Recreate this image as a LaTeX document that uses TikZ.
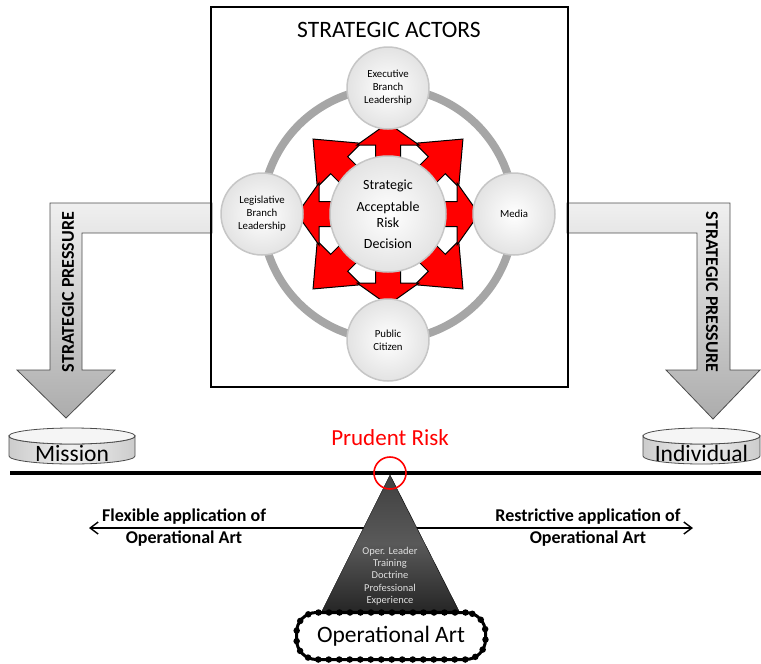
\documentclass[tikz,border=0pt]{standalone}
\usepackage{fontspec}
\setmainfont{Carlito}
\usetikzlibrary{arrows.meta}

\begin{document}
\begin{tikzpicture}[x=1pt,y=-1pt]
			\tikzstyle{actor}=[circle, draw=gray!45, line width=1.5pt, inner color=white, outer color=gray!22, minimum size=82pt, inner sep=0pt, align=center, font=\fontsize{10.8}{13}\selectfont]
			\tikzstyle{spoke}=[fill=red, draw=black, line width=1pt, line join=miter]
			\tikzstyle{pressure}=[draw=gray!60!black, line width=0.8pt, top color=gray!12, bottom color=gray!65]
			\tikzstyle{pressuretext}=[font=\bfseries\fontsize{18}{20}\selectfont]
			\tikzstyle{weight}=[draw=gray!60!black, line width=0.8pt, left color=gray!40, right color=gray!40, middle color=gray!12]
			\tikzstyle{weightend}=[draw=gray!60!black, line width=0.8pt, fill=gray!8]
			\tikzstyle{weighttext}=[font=\fontsize{23.5}{26}\selectfont]
			\tikzstyle{armtext}=[align=center, font=\bfseries\fontsize{18}{22}\selectfont]
			\tikzstyle{puffy}=[draw, fill=white, line width=3pt, rounded corners=20pt, minimum width=189pt, minimum height=47pt, postaction={draw, line width=6.5pt, line cap=round, dash pattern=on 0pt off 10.5pt}]
			\tikzset{edge/.style = {<->, >={Straight Barb[length=8pt,width=12pt]}, line width=1.4pt}}
			
			\useasboundingbox (0,0) rectangle (761,664);
			
			\draw[pressure] (212,203) -- (50,203) -- (50,370) -- (17,370) -- (66,418) -- (115,370) -- (82,370) -- (82,233) -- (212,233) -- cycle;
			\draw[pressure] (567,203) -- (730,203) -- (730,370) -- (760,370) -- (713,419) -- (666,370) -- (697,370) -- (697,233) -- (567,233) -- cycle;
			\node[pressuretext, rotate=90](pressureL) at (68,292) {STRATEGIC PRESSURE};
			\node[pressuretext, rotate=-90](pressureR) at (712,292) {STRATEGIC PRESSURE};
			
			\node[draw, line width=1.5pt, minimum width=357pt, minimum height=380pt](actors) at (389.5,197) {};
			\node[font=\fontsize{23.5}{26}\selectfont](title) at (389,30) {STRATEGIC ACTORS};
			
			\draw[gray!70, line width=8pt] (388,214) circle (126pt);
			\foreach \a in {45,135,225,315}
				\draw[spoke, shift={(388,214)}, rotate=\a] (0,-12) -- (69,-12) -- (69,-31) -- (106,0) -- (69,31) -- (69,12) -- (0,12) -- cycle;
			\foreach \a in {0,90,180,270}
				\draw[spoke, shift={(388,214)}, rotate=\a] (0,-12.5) -- (69,-12.5) -- (69,-31) -- (91,0) -- (69,31) -- (69,12.5) -- (0,12.5) -- cycle;
			
			\node[actor, minimum size=116pt, font=\fontsize{14}{16.5}\selectfont](decision) at (388,214) {Strategic\\[5pt]Acceptable\\Risk\\[4pt]Decision};
			\node[actor](executive) at (388,88) {Executive\\Branch\\Leadership};
			\node[actor](legislative) at (262,214) {Legislative\\Branch\\Leadership};
			\node[actor](media) at (514,214) {Media};
			\node[actor](public) at (388,340) {Public\\Citizen};
			
			\draw[weight] (9,436) -- (9,456) arc[start angle=180, end angle=0, x radius=63, y radius=8] -- (135,436) arc[start angle=0, end angle=180, x radius=63, y radius=8] -- cycle;
			\draw[weightend] (72,436) ellipse[x radius=63, y radius=8];
			\node[weighttext](mission) at (72,453) {Mission};
			\draw[weight] (643,436) -- (643,456) arc[start angle=180, end angle=0, x radius=58.5, y radius=8] -- (760,436) arc[start angle=0, end angle=180, x radius=58.5, y radius=8] -- cycle;
			\draw[weightend] (701.5,436) ellipse[x radius=58.5, y radius=8];
			\node[weighttext](individual) at (701.5,453) {Individual};
			
			\coordinate (flexEnd) at (89,528);
			\coordinate (restrEnd) at (693,528);
			\draw[edge](flexEnd) to (restrEnd);
			\node[armtext](flexible) at (184,528) {Flexible application of\\Operational Art};
			\node[armtext](restrictive) at (588,528) {Restrictive application of\\Operational Art};
			
			\coordinate (apex) at (390,475);
			\coordinate (baseL) at (322,611);
			\coordinate (baseR) at (459,611);
			\draw[top color=gray!50!black, bottom color=black!85, middle color=gray!70!black] (apex) -- (baseR) -- (baseL) -- cycle;
			\node[align=center, text=gray!25, font=\fontsize{10.5}{12.3}\selectfont](basis) at (390,576) {Oper. Leader\\Training\\Doctrine\\Professional\\Experience};
			
			\coordinate (beamL) at (10,473);
			\coordinate (beamR) at (761,473);
			\draw[line width=4.5pt](beamL) to (beamR);
			\node[circle, draw=red, line width=1.6pt, minimum size=32pt, inner sep=0pt](pivot) at (390,473) {};
			\node[text=red, font=\fontsize{23}{26}\selectfont](prudent) at (390,438) {Prudent Risk};
			
			\node[puffy, font=\fontsize{23.5}{26}\selectfont](opart) at (391,636) {Operational Art};
			
			\end{tikzpicture}
\end{document}
